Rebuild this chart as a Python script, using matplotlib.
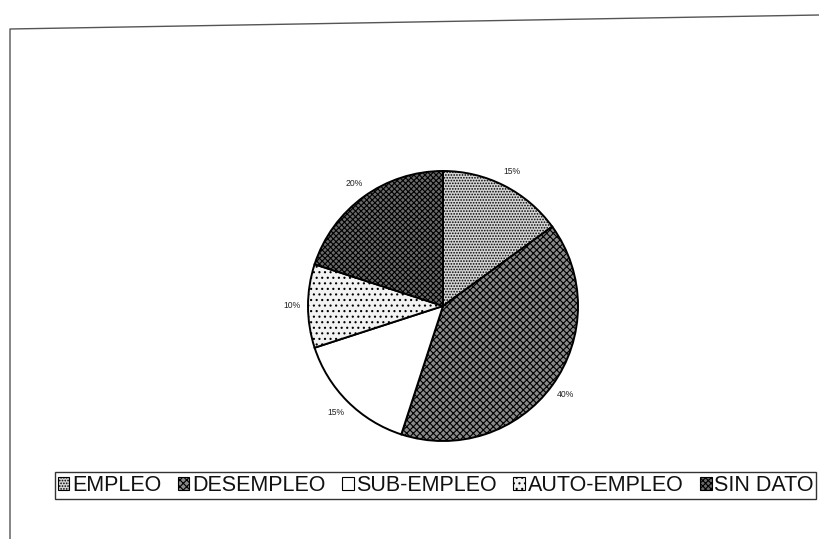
import matplotlib
matplotlib.use("Agg")
import matplotlib.pyplot as plt
from matplotlib.patches import Patch

plt.rcParams['font.family'] = ['Liberation Sans', 'DejaVu Sans']
plt.rcParams['hatch.linewidth'] = 0.8

categories = ["EMPLEO", "DESEMPLEO", "SUB-EMPLEO", "AUTO-EMPLEO", "SIN DATO"]
values = [15, 40, 15, 10, 20]

faces = ["#d4d4d4", "#8a8a8a", "#ffffff", "#f2f2f2", "#6a6a6a"]
hatches = ["......", "xxxxx", "", "...", "xxxxxx"]

fig = plt.figure(figsize=(8.19, 5.39), dpi=100)
ax = fig.add_axes([0, 0, 1, 1])

wedges, texts, autotexts = ax.pie(
    values, startangle=90, counterclock=False,
    center=(443, 233), radius=135, frame=True,
    colors=faces, autopct='%1.0f%%', pctdistance=1.12,
    wedgeprops=dict(edgecolor='black', linewidth=1.4),
    textprops=dict(fontsize=6.2, color='#222222'))
for w, h in zip(wedges, hatches):
    w.set_hatch(h)
ax.set_xlim(0, 819)
ax.set_ylim(0, 539)
ax.set_aspect('equal')
ax.axis('off')

# page frame from the scan
ax.plot([10, 10, 819], [0, 510, 524], color="#555555", lw=1.0)

handles = [Patch(facecolor=f, edgecolor='black', hatch=h, linewidth=0.8)
           for f, h in zip(faces, hatches)]
leg = ax.legend(handles, categories, ncol=5, loc='center left',
                bbox_to_anchor=(55 / 819, 53.5 / 539),
                frameon=True, fancybox=False, edgecolor='black',
                fontsize=15.5, handlelength=0.55, handleheight=0.55,
                handletextpad=0.12, columnspacing=0.76, borderpad=0.12,
                borderaxespad=0)
leg.get_frame().set_linewidth(1.0)
for t in leg.get_texts():
    t.set_color('#111111')

fig.savefig("out.png", dpi=100, facecolor='white')
